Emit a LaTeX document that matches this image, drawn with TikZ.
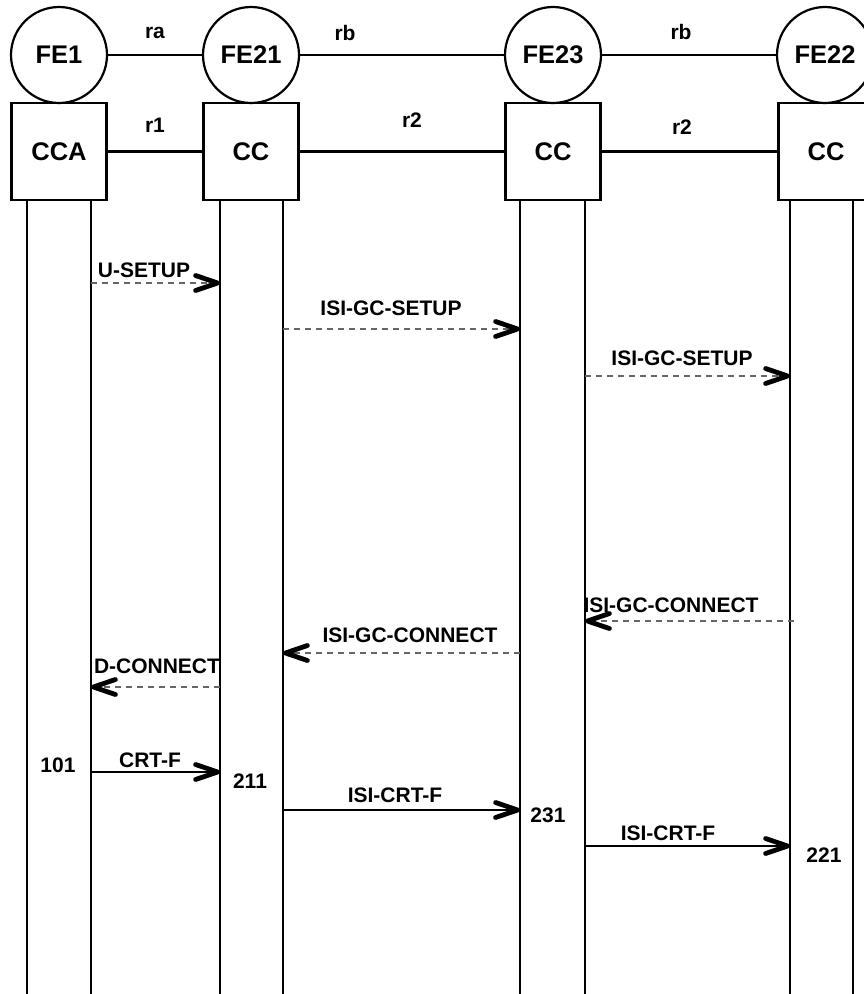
\documentclass[tikz,border=0pt]{standalone}
\usepackage{fontspec}
\setmainfont{Liberation Sans}
\usetikzlibrary{arrows.meta}
\tikzset{msgtip/.tip={Straight Barb[length=22pt,width=15pt,line width=4.8pt,round,color=black]}}
\begin{document}
\begin{tikzpicture}[x=1pt,y=-1pt,
  fe/.style={circle,draw,line width=2.2pt,minimum size=96pt,inner sep=0pt,font=\fontsize{25.5}{29}\selectfont\bfseries},
  ccbox/.style={rectangle,draw,line width=2.2pt,minimum width=95pt,minimum height=97pt,inner sep=0pt,font=\fontsize{25.5}{29}\selectfont\bfseries},
  link/.style={line width=2.2pt},
  lbl/.style={font=\fontsize{21}{25}\selectfont\bfseries,inner sep=0pt},
  life/.style={line width=2.2pt},
  req/.style={black!60, line width=1.2pt, dash pattern=on 6pt off 5pt, -{msgtip}},
  conf/.style={line width=2.2pt, -{msgtip}},
]
\useasboundingbox (0,0) rectangle (864,994);
% functional entities
\node[fe] (fe1)  at (59,55)  {FE1};
\node[fe] (fe21) at (251,55) {FE21};
\node[fe] (fe23) at (553,55) {FE23};
\node[fe] (fe22) at (825,55) {FE22};
\node[ccbox] (cca) at (59,151.5)  {CCA};
\node[ccbox] (cc1) at (251,151.5) {CC};
\node[ccbox] (cc2) at (553,151.5) {CC};
\node[ccbox] (cc3) at (826,151.5) {CC};
% relationships
\draw[link] (fe1) -- (fe21);
\draw[link] (fe21) -- (fe23);
\draw[link] (fe23) -- (fe22);
\draw[link] (cca) -- (cc1);
\draw[link] (cc1) -- (cc2);
\draw[link] (cc2) -- (cc3);
\node[lbl] (lra)  at (155,33)  {ra};
\node[lbl] (lrb1) at (345,33)  {rb};
\node[lbl] (lrb2) at (681,32)  {rb};
\node[lbl] (lr1)  at (155,125) {r1};
\node[lbl] (lr21) at (412,120) {r2};
\node[lbl] (lr22) at (682,127) {r2};
% lifelines
\coordinate (bot) at (0,994);
\coordinate (a1) at (27,200);  \coordinate (a2) at (91,200);
\coordinate (b1) at (220,200); \coordinate (b2) at (283,200);
\coordinate (c1) at (520,200); \coordinate (c2) at (585,200);
\coordinate (d1) at (790,200); \coordinate (d2) at (853,200);
\foreach \p in {a1,a2,b1,b2,c1,c2,d1,d2}
  \draw[life] (\p) -- (\p |- bot);
% messages
\draw[req] (a2 |- 0,283) -- (b1 |- 0,283);
\node[lbl] (m1) at (144,270) {U-SETUP};
\draw[req] (b2 |- 0,329) -- (c1 |- 0,329);
\node[lbl] (m2) at (391,308) {ISI-GC-SETUP};
\draw[req] (c2 |- 0,376) -- (d1 |- 0,376);
\node[lbl] (m3) at (682,358) {ISI-GC-SETUP};
\coordinate (s4) at (794,621);
\draw[req] (s4) -- (c2 |- s4);
\node[lbl] (m4) at (671,605) {ISI-GC-CONNECT};
\draw[req] (c1 |- 0,653) -- (b2 |- 0,653);
\node[lbl] (m5) at (410,635) {ISI-GC-CONNECT};
\draw[req] (b1 |- 0,687) -- (a2 |- 0,687);
\node[lbl] (m6) at (157,666) {D-CONNECT};
\draw[conf] (a2 |- 0,772) -- (b1 |- 0,772);
\node[lbl] (m7) at (150,760) {CRT-F};
\node[lbl] (n101) at (58,765) {101};
\node[lbl] (n211) at (250,781) {211};
\draw[conf] (b2 |- 0,810) -- (c1 |- 0,810);
\node[lbl] (m8) at (395,795) {ISI-CRT-F};
\node[lbl] (n231) at (548,815) {231};
\draw[conf] (c2 |- 0,846) -- (d1 |- 0,846);
\node[lbl] (m9) at (668,833) {ISI-CRT-F};
\node[lbl] (n221) at (824,855) {221};
\end{tikzpicture}
\end{document}
